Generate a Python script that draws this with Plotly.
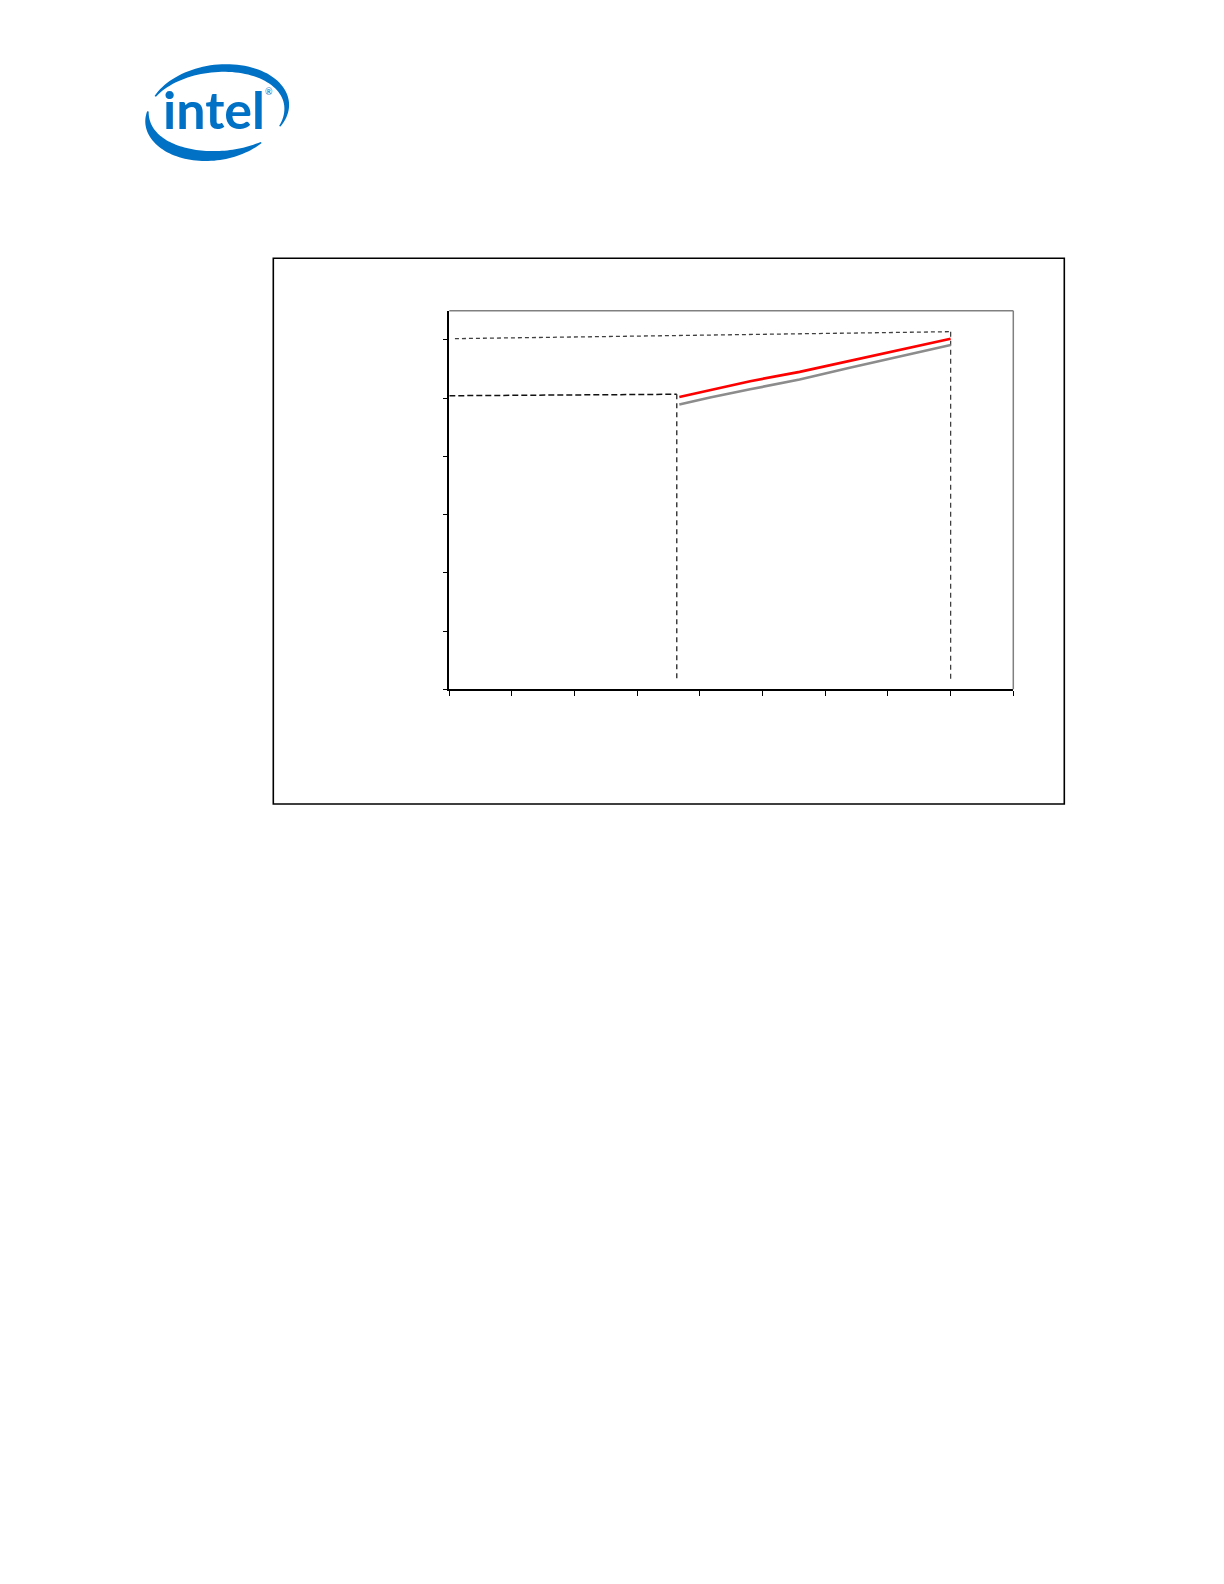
import numpy as np
import plotly.graph_objects as go

# ---------------- data ----------------
x_ticks = [0, 1, 2, 3, 4, 5, 6, 7, 8, 9]
y_ticks = [0, 1, 2, 3, 4, 5, 6]

red_x = [3.67, 4.16, 4.80, 5.59, 6.39, 6.71, 7.19, 8.0]
red_y = [5.02, 5.14, 5.29, 5.45, 5.64, 5.72, 5.83, 6.02]

gray_x = [3.67, 4.16, 4.80, 5.59, 6.39, 7.19, 8.0]
gray_y = [4.89, 5.01, 5.15, 5.32, 5.52, 5.72, 5.91]

upper_ref_x = [0.09, 8.0]
upper_ref_y = [6.02, 6.14]
upper_drop_x = [8.0, 8.0]
upper_drop_y = [6.14, 0.17]

lower_ref_x = [0.0, 3.63]
lower_ref_y = [5.04, 5.065]
lower_drop_x = [3.63, 3.63]
lower_drop_y = [5.065, 0.13]

# ---------------- geometry helpers ----------------
W, H = 1224, 1584


def px(x):
    return x / W


def py(y):
    return 1 - y / H


plot_l, plot_r, plot_t, plot_b = 449.3, 1013.3, 310.7, 689.3

fig = go.Figure()

fig.add_trace(go.Scatter(x=upper_ref_x, y=upper_ref_y, mode="lines",
                         line=dict(color="#404040", width=1.3, dash="4px,3px"),
                         showlegend=False, hoverinfo="skip"))
fig.add_trace(go.Scatter(x=upper_drop_x, y=upper_drop_y, mode="lines",
                         line=dict(color="#404040", width=1.3, dash="5px,4px"),
                         showlegend=False, hoverinfo="skip"))
fig.add_trace(go.Scatter(x=lower_ref_x, y=lower_ref_y, mode="lines",
                         line=dict(color="#111111", width=1.5, dash="6px,3px"),
                         showlegend=False, hoverinfo="skip"))
fig.add_trace(go.Scatter(x=lower_drop_x, y=lower_drop_y, mode="lines",
                         line=dict(color="#222222", width=1.3, dash="5px,4px"),
                         showlegend=False, hoverinfo="skip"))
fig.add_trace(go.Scatter(x=gray_x, y=gray_y, mode="lines",
                         line=dict(color="#8c8c8c", width=2.6),
                         showlegend=False, hoverinfo="skip"))
fig.add_trace(go.Scatter(x=red_x, y=red_y, mode="lines",
                         line=dict(color="#ff0000", width=2.6),
                         showlegend=False, hoverinfo="skip"))

axis_common = dict(showgrid=False, zeroline=False, showticklabels=False,
                   showline=True, linecolor="black", linewidth=1.6,
                   ticks="outside", ticklen=5, tickcolor="black", tickwidth=1.2)

fig.update_layout(
    width=W, height=H,
    margin=dict(l=0, r=0, t=0, b=0),
    paper_bgcolor="white", plot_bgcolor="white",
    xaxis=dict(range=[0, 9], tickmode="array", tickvals=x_ticks,
               domain=[px(plot_l), px(plot_r)], **axis_common),
    yaxis=dict(range=[0, 6.5], tickmode="array", tickvals=y_ticks,
               domain=[py(plot_b), py(plot_t)], **axis_common),
)

shapes = []
# outer frame
shapes.append(dict(type="rect", xref="paper", yref="paper",
                   x0=px(273.3), x1=px(1064.3), y0=py(804), y1=py(258.3),
                   line=dict(color="black", width=1.6)))
# gray top/right border of plot area
shapes.append(dict(type="line", xref="paper", yref="paper",
                   x0=px(plot_l), x1=px(plot_r), y0=py(plot_t), y1=py(plot_t),
                   line=dict(color="#808080", width=1.5)))
shapes.append(dict(type="line", xref="paper", yref="paper",
                   x0=px(plot_r), x1=px(plot_r), y0=py(plot_t), y1=py(plot_b),
                   line=dict(color="#808080", width=1.5)))

# Intel logo swoosh
cx, cy, a, b = 217.0, 112.0, 70.0, 43.5
rot = np.deg2rad(-7)


def crescent(t0, t1, thick_max, thick_min=1.0, n=60):
    ts = np.linspace(t0, t1, n)
    mid = (t0 + t1) / 2
    half = abs(t1 - t0) / 2
    outer, inner = [], []
    for t in ts:
        f = 1 - ((t - mid) / half) ** 2
        th = thick_min + (thick_max - thick_min) * f
        tr = np.deg2rad(t)
        for r_off, lst in ((th / 2, outer), (-th / 2, inner)):
            ex, ey = (a + r_off) * np.cos(tr), -(b + r_off) * np.sin(tr)
            rx = ex * np.cos(rot) - ey * np.sin(rot)
            ry = ex * np.sin(rot) + ey * np.cos(rot)
            lst.append((px(cx + rx), py(cy + ry)))
    pts = outer + inner[::-1]
    return "M " + " L ".join(f"{x:.5f},{y:.5f}" for x, y in pts) + " Z"


blue = "#0071c5"
shapes.append(dict(type="path", xref="paper", yref="paper",
                   path=crescent(148, -30, 8, 1.5),
                   fillcolor=blue, line=dict(width=0)))
shapes.append(dict(type="path", xref="paper", yref="paper",
                   path=crescent(168, 305, 11, 1.5),
                   fillcolor=blue, line=dict(width=0)))

fig.update_layout(shapes=shapes)

fig.add_annotation(x=px(214), y=py(109), xref="paper", yref="paper",
                   text="intel", showarrow=False, xanchor="center", yanchor="middle",
                   font=dict(family="Lato", size=52, color=blue, weight=700))
fig.add_annotation(x=px(269), y=py(92), xref="paper", yref="paper",
                   text="®", showarrow=False, xanchor="center", yanchor="middle",
                   font=dict(family="Lato", size=9, color=blue))

fig.write_html("out.html", config={"displayModeBar": False},
               post_script="document.body.style.margin='0';")
